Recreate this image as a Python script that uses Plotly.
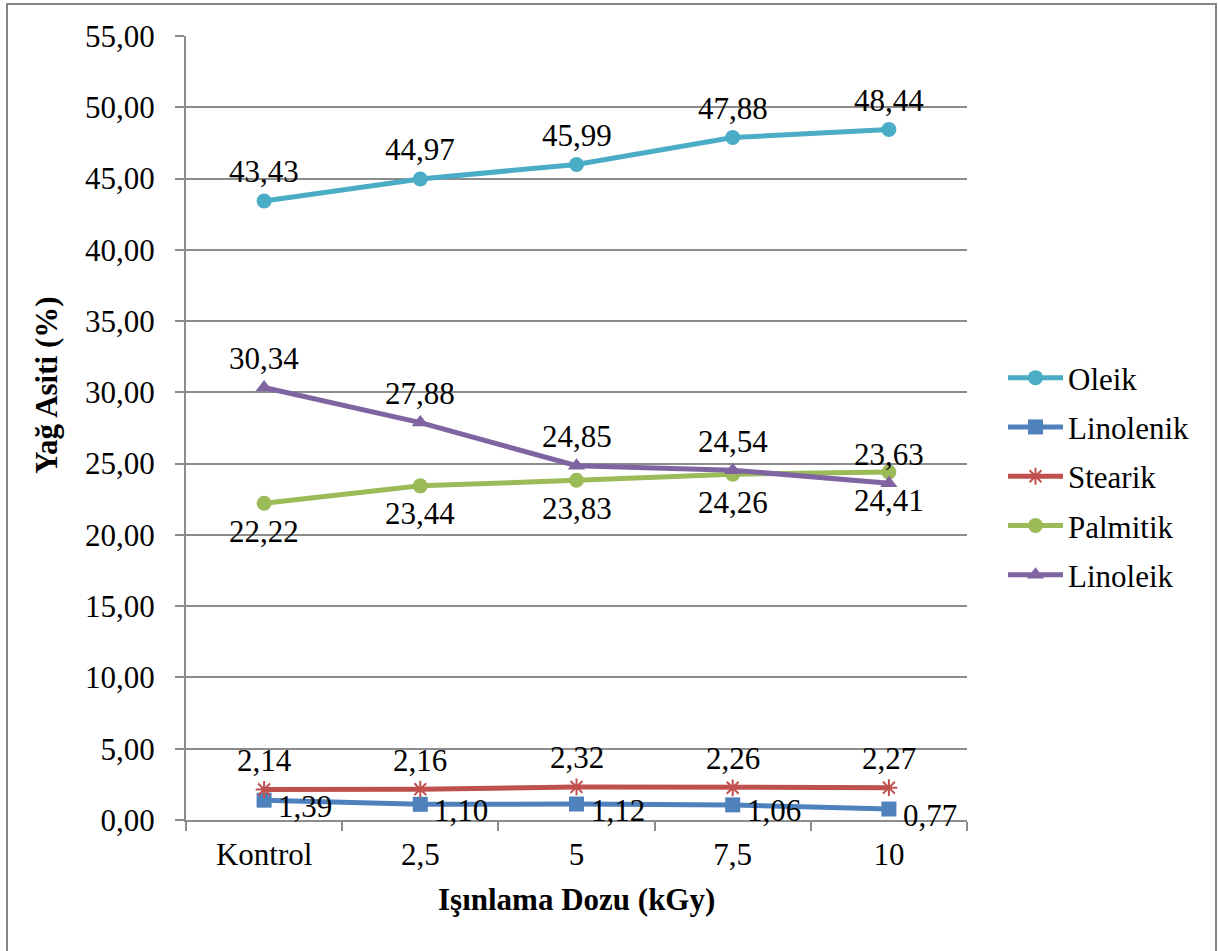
import plotly.graph_objects as go

# Irradiation dose categories
doses = ["Kontrol", "2,5", "5", "7,5", "10"]

# Fatty acid composition (%)
oleik = [43.43, 44.97, 45.99, 47.88, 48.44]
linolenik = [1.39, 1.10, 1.12, 1.06, 0.77]
stearik = [2.14, 2.16, 2.32, 2.26, 2.27]
palmitik = [22.22, 23.44, 23.83, 24.26, 24.41]
linoleik = [30.34, 27.88, 24.85, 24.54, 23.63]

FONT = "Liberation Serif, DejaVu Serif"
FS = 31
GRID = "#8c8c8c"

series = [
    # name, values, colour, marker symbol, label placement
    ("Oleik", oleik, "#4BACC6", "circle", "above"),
    ("Linolenik", linolenik, "#4F81BD", "square", "right"),
    ("Stearik", stearik, "#C0504D", "asterisk-open", "above"),
    ("Palmitik", palmitik, "#9BBB59", "circle", "below"),
    ("Linoleik", linoleik, "#8064A2", "triangle-up", "above"),
]


def fmt(v):
    return f"{v:.2f}".replace(".", ",")


fig = go.Figure()
annotations = []
for name, vals, color, symbol, place in series:
    marker = dict(symbol=symbol, size=15, color=color)
    if symbol == "asterisk-open":
        marker = dict(symbol=symbol, size=14, color=color, line=dict(color=color, width=2))
    fig.add_trace(go.Scatter(
        x=doses, y=vals, name=name, mode="lines+markers",
        line=dict(color=color, width=5),
        marker=marker,
        legendgroup=name,
    ))
    # data labels, placed on the category index of each point
    for idx, v in enumerate(vals):
        a = dict(x=idx, y=v, text=fmt(v), showarrow=False,
                 font=dict(family=FONT, size=FS, color="black"))
        if place == "above":
            a.update(yanchor="middle", xanchor="center", yshift=29)
        elif place == "below":
            a.update(yanchor="middle", xanchor="center", yshift=-28)
        else:
            a.update(yanchor="middle", xanchor="left", xshift=12, yshift=-6)
        annotations.append(a)

# Axis titles
annotations.append(dict(
    x=0.5, y=-0.102, xref="paper", yref="paper", text="<b>Işınlama Dozu (kGy)</b>",
    showarrow=False, xanchor="center", yanchor="middle",
    font=dict(family=FONT, size=FS, color="black")))
annotations.append(dict(
    x=-0.178, y=0.555, xref="paper", yref="paper", text="<b>Yağ Asiti (%)</b>",
    showarrow=False, xanchor="center", yanchor="middle", textangle=-90,
    font=dict(family=FONT, size=FS, color="black")))

L, R, T, B = 186, 967, 36, 820
pw, ph = R - L, B - T


def px(x):
    return (x - L) / pw


def py(y):
    return (B - y) / ph


fig.update_layout(
    width=1218, height=951,
    margin=dict(l=L, r=1218 - R, t=T, b=951 - B),
    paper_bgcolor="white", plot_bgcolor="white",
    separators=",.",
    font=dict(family=FONT, size=FS, color="black"),
    showlegend=True,
    legend=dict(
        x=px(1003), y=py(351), xanchor="left", yanchor="top",
        font=dict(family=FONT, size=FS, color="black"),
        traceorder="grouped", tracegroupgap=6, itemwidth=55,
        bgcolor="rgba(0,0,0,0)",
    ),
    annotations=annotations,
    shapes=[dict(type="rect", xref="paper", yref="paper",
                 x0=px(7), x1=px(1216), y0=py(965), y1=py(4),
                 line=dict(color="#868686", width=2), layer="below")],
)

fig.update_xaxes(
    type="category", range=[-0.5, 4.5],
    showline=True, linecolor=GRID, linewidth=2,
    ticks="outside", tickson="boundaries", ticklen=9, tickcolor=GRID, tickwidth=2,
    ticklabelstandoff=6,
    showgrid=False, tickfont=dict(family=FONT, size=FS, color="black"),
)
fig.update_yaxes(
    range=[0, 55], dtick=5, tickformat=".2f",
    showline=True, linecolor=GRID, linewidth=2,
    ticks="outside", ticklen=9, tickcolor=GRID, tickwidth=2,
    ticklabelstandoff=14,
    showgrid=True, gridcolor=GRID, gridwidth=2, zeroline=False,
    tickfont=dict(family=FONT, size=FS, color="black"),
)

fig.write_html("out.html")
